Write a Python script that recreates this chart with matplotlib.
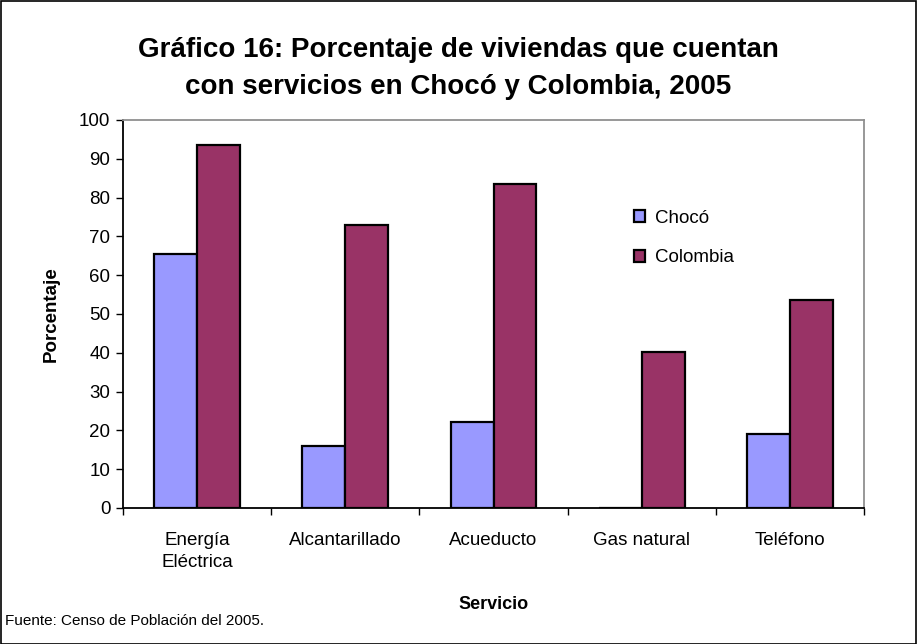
import matplotlib
matplotlib.use("Agg")
import matplotlib.pyplot as plt
import numpy as np
from matplotlib.patches import Rectangle

plt.rcParams['font.family'] = ['Liberation Sans', 'DejaVu Sans']

categories = ["Energía\nEléctrica", "Alcantarillado", "Acueducto", "Gas natural", "Teléfono"]
choco = [65.4, 16.1, 22.2, 0.0, 19.0]
colombia = [93.6, 73.0, 83.5, 40.2, 53.6]
yticks = list(range(0, 101, 10))

W, H = 917, 644
fig = plt.figure(figsize=(W / 100, H / 100), dpi=100)
fig.patch.set_facecolor("white")

ax = fig.add_axes([123 / W, 1 - 508 / H, (864 - 123) / W, (508 - 120) / H])

x = np.arange(len(categories))
bw = 0.29
ax.bar(x - bw / 2, choco, width=bw, color="#9999FF", edgecolor="black", linewidth=1.6, label="Chocó")
ax.bar(x + bw / 2, colombia, width=bw, color="#993366", edgecolor="black", linewidth=1.6, label="Colombia")

ax.set_xlim(-0.5, len(categories) - 0.5)
ax.set_ylim(0, 100)
ax.set_yticks(yticks)
ax.set_yticklabels([str(v) for v in yticks], fontsize=13.5)
ax.set_xticks(x)
ax.set_xticklabels(categories, fontsize=13.5, linespacing=1.45)
ax.tick_params(axis='x', length=0, pad=17)
ax.tick_params(axis='y', length=5, width=1, direction='out', pad=4)
ax.set_xticks(np.arange(-0.5, len(categories), 1.0), minor=True)
ax.tick_params(axis='x', which='minor', length=5, width=1, direction='out')

for s in ['left', 'bottom']:
    ax.spines[s].set_color('black')
    ax.spines[s].set_linewidth(1.3)
for s in ['top', 'right']:
    ax.spines[s].set_color('#909090')
    ax.spines[s].set_linewidth(1.3)

ax.set_ylabel("Porcentaje", fontsize=13.5, fontweight='bold', labelpad=14)
ax.set_xlabel("Servicio", fontsize=13, fontweight='bold', labelpad=18)

leg = ax.legend(loc='upper left', bbox_to_anchor=((634 - 123) / (864 - 123), 1 - (210 - 120) / (508 - 120)),
                frameon=False, fontsize=13.5, handlelength=0.6, handleheight=0.6,
                handletextpad=0.5, labelspacing=1.2, borderaxespad=0, borderpad=0)

fig.text(0.5, 1 - 50 / H, "Gráfico 16: Porcentaje de viviendas que cuentan",
         ha='center', va='center', fontsize=20, fontweight='bold')
fig.text(0.5, 1 - 87 / H, "con servicios en Chocó y Colombia, 2005",
         ha='center', va='center', fontsize=20, fontweight='bold')

fig.text(5 / W, 1 - 621 / H, "Fuente: Censo de Población del 2005.", ha='left', va='center', fontsize=11)

fig.add_artist(Rectangle((0.5 / W, 0.5 / H), 1 - 1.5 / W, 1 - 1.5 / H, transform=fig.transFigure,
                         fill=False, edgecolor='black', linewidth=1.2))

fig.savefig("out.png", dpi=100, facecolor="white")
